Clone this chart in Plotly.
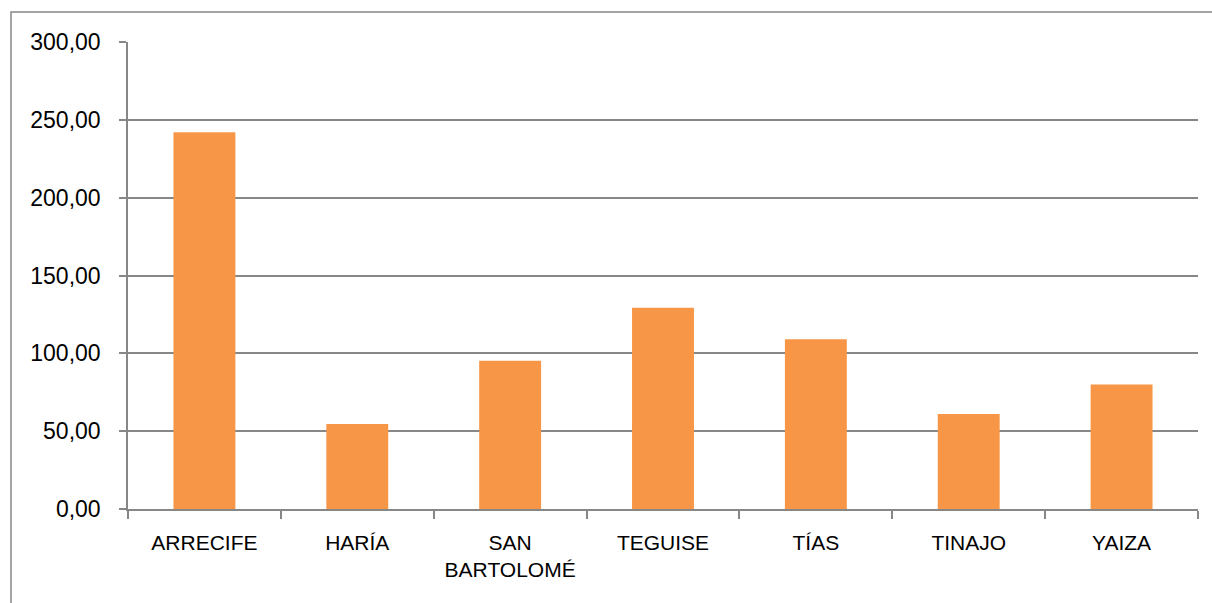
import plotly.graph_objects as go

municipios = ["ARRECIFE", "HARÍA", "SAN<br>BARTOLOMÉ", "TEGUISE", "TÍAS", "TINAJO", "YAIZA"]
valores = [242.0, 54.6, 95.3, 129.3, 109.0, 61.0, 79.9]
y_ticks = [0, 50, 100, 150, 200, 250, 300]

GRAY = "#878787"
FONT = "Liberation Sans, Arial, sans-serif"

fig = go.Figure(go.Bar(
    x=municipios, y=valores,
    marker=dict(color="#F79646", line=dict(width=0)),
))

fig.update_layout(
    width=1212, height=603,
    margin=dict(l=128, r=14, t=42, b=94),
    paper_bgcolor="white", plot_bgcolor="white",
    bargap=0.595,
    separators=",.",
    showlegend=False,
    font=dict(family=FONT, size=21, color="#000000"),
    shapes=[dict(type="rect", xref="paper", yref="paper",
                 x0=-117/1070, x1=1.2, y0=-0.3, y1=1 + 30/467,
                 line=dict(color=GRAY, width=1.5), layer="below")],
)

fig.update_yaxes(
    range=[0, 300], tickvals=y_ticks, tickformat=".2f",
    showgrid=True, gridcolor=GRAY, gridwidth=1.5,
    showline=True, linecolor=GRAY, linewidth=1.5,
    ticks="outside", ticklen=7, tickcolor=GRAY, tickwidth=1.5,
    ticklabelstandoff=14, zeroline=False, fixedrange=True,
    tickfont=dict(size=23),
)
fig.update_xaxes(
    showline=True, linecolor=GRAY, linewidth=1.5,
    ticks="outside", ticklen=8, tickcolor=GRAY, tickwidth=1.5,
    tickson="boundaries", showgrid=False, fixedrange=True,
    tickfont=dict(size=21), ticklabelstandoff=14,
)

fig.write_html("out.html", config={"displayModeBar": False},
               post_script="document.body.style.margin='0';")
